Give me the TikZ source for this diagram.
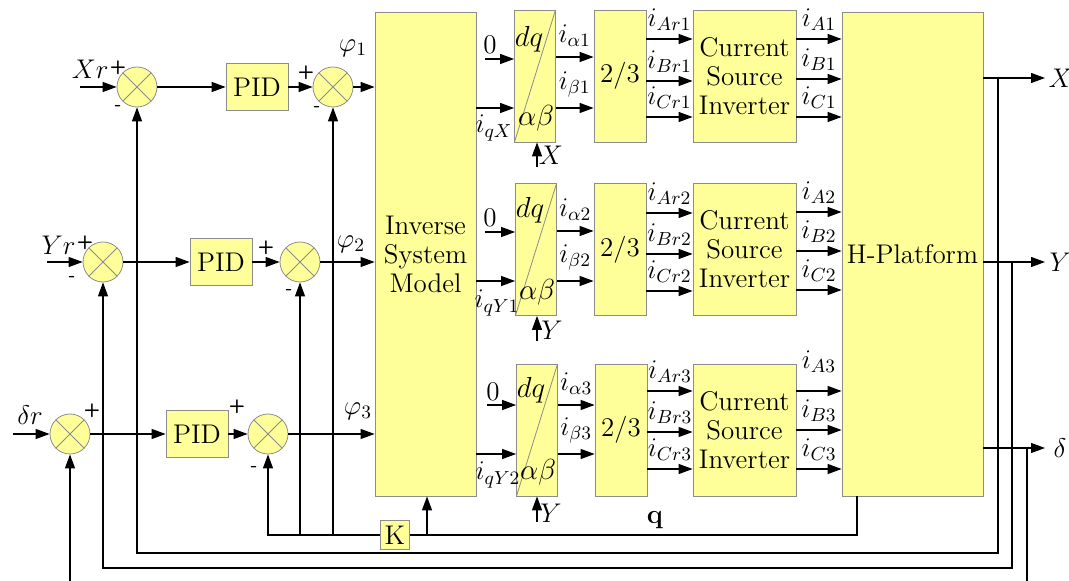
\RequirePackage{fix-cm}
\documentclass[tikz,border=0pt]{standalone}
\usepackage{tikz}
\usetikzlibrary{arrows.meta, positioning, calc}
\usepackage{amsmath}
\definecolor{boxfill}{HTML}{FFFF99}
\definecolor{boxline}{HTML}{8C8C8C}

\begin{document}
\begin{tikzpicture}[
    x=0.5pt, y=-0.5pt,
    font=\fontsize{13.5}{14.5}\selectfont,
    blk/.style={draw=boxline, fill=boxfill, inner sep=0pt, align=center},
    pidbox/.style={blk, minimum width=31pt, minimum height=23.5pt},
    tall/.style={blk, minimum width=#1, minimum height=242pt},
    dqbox/.style={blk, minimum width=20.5pt, minimum height=66pt,
        path picture={\draw[boxline] (path picture bounding box.south west) -- (path picture bounding box.north east);}},
    tfbox/.style={blk, minimum width=26pt, minimum height=66pt},
    csibox/.style={blk, minimum width=51.5pt, minimum height=66pt},
    kblk/.style={blk, minimum size=14.5pt},
    sumjn/.style={circle, draw=boxline, fill=boxfill, minimum size=20pt, inner sep=0pt,
        path picture={\draw[boxline] (path picture bounding box.north west) -- (path picture bounding box.south east)
            (path picture bounding box.north east) -- (path picture bounding box.south west);}},
    sgn/.style={font=\sffamily\bfseries\fontsize{9.5}{10}\selectfont, inner sep=0pt},
    lbl/.style={inner sep=0pt},
    big/.style={lbl, font=\fontsize{14.5}{15}\selectfont},
    arr/.style={-{Triangle[length=7pt, width=5pt]}, line width=0.6pt},
    ln/.style={line width=0.6pt},
]

\useasboundingbox (0,0) rectangle (1069,581);

% --- Outer loops: summing junctions and PIDs ---
\node[sumjn] (s1) at (137,87) {};
\node[pidbox] (pid1) at (257,87) {PID};
\node[sumjn] (s2) at (333,87) {};
\node[sumjn] (s3) at (103,262) {};
\node[pidbox] (pid2) at (221,262) {PID};
\node[sumjn] (s4) at (300,262) {};
\node[sumjn] (s5) at (70,434) {};
\node[pidbox] (pid3) at (197,434) {PID};
\node[sumjn] (s6) at (268,434) {};

\coordinate (xr) at (80,87);
\coordinate (yr) at (47,262);
\coordinate (dr) at (13,434);
\node[lbl, anchor=east] (xrl) at (109,69) {$Xr$};
\node[lbl, anchor=east] (yrl) at (76,245) {$Yr$};
\node[lbl] (drl) at (30,415) {$\delta r$};

\node[sgn] (p1) at (118,68) {+};
\node[sgn] (m1) at (118,108) {-};
\node[sgn] (p2) at (306,73) {+};
\node[sgn] (m2) at (317,109) {-};
\node[sgn] (p3) at (85,243) {+};
\node[sgn] (m3) at (72,279) {-};
\node[sgn] (p4) at (266,248) {+};
\node[sgn] (m4) at (289,292) {-};
\node[sgn] (p5) at (92,411) {+};
\node[sgn] (p6) at (237,407) {+};
\node[sgn] (m6) at (254,469) {-};

\draw[arr] (xr) -- (s1);
\draw[arr] (s1) -- (pid1);
\draw[arr] (pid1) -- (s2);
\draw[arr] (yr) -- (s3);
\draw[arr] (s3) -- (pid2);
\draw[arr] (pid2) -- (s4);
\draw[arr] (dr) -- (s5);
\draw[arr] (s5) -- (pid3);
\draw[arr] (pid3) -- (s6);

% --- Inverse model and plant ---
\node[tall=50.5pt] (ism) at (425.5,254) {Inverse\\System\\Model};
\node[tall=70.5pt] (hp) at (912.5,254) {H-Platform};

\draw[arr] (s2) -- (s2 -| ism.west);
\draw[arr] (s4) -- (s4 -| ism.west);
\draw[arr] (s6) -- (s6 -| ism.west);
\node[lbl] (phi1) at (353,48) {$\varphi_1$};
\node[lbl] (phi2) at (351,244) {$\varphi_2$};
\node[lbl] (phi3) at (358,411) {$\varphi_3$};

% --- Channel 1 ---
\node[dqbox] (dq1) at (535,76) {};
\node[tfbox] (tf1) at (620,76) {2/3};
\node[csibox] (csi1) at (744.5,76) {Current\\Source\\Inverter};
\node[big] (dqa1) at (529,39) {$dq$};
\node[big] (ab1) at (536,118) {$\alpha\beta$};
\coordinate (z1) at (485,59);
\coordinate (xi1) at (537,167);
\node[lbl] (zl1) at (490,45) {$0$};
\node[lbl] (iq1) at (494,128) {$i_{qX}$};
\node[lbl] (xl1) at (551,155) {$X$};
\draw[arr] (z1) -- (dq1.west |- z1);
\draw[arr] (ism.east |- 0,108) -- (dq1.west |- 0,108);
\draw[arr] (xi1) -- (xi1 |- dq1.south);
\draw[arr] (dq1.east |- 0,57) -- (tf1.west |- 0,57) node[lbl, midway, above=5pt] (ia1) {$i_{\alpha1}$};
\draw[arr] (dq1.east |- 0,108) -- (tf1.west |- 0,108) node[lbl, midway, above=5pt] (ib1) {$i_{\beta1}$};
\draw[arr] (tf1.east |- 0,39) -- (csi1.west |- 0,39) node[lbl, midway, above=4pt] (iar1) {$i_{Ar1}$};
\draw[arr] (tf1.east |- 0,81) -- (csi1.west |- 0,81) node[lbl, midway, above=4pt] (ibr1) {$i_{Br1}$};
\draw[arr] (tf1.east |- 0,117) -- (csi1.west |- 0,117) node[lbl, midway, above=4pt] (icr1) {$i_{Cr1}$};
\draw[arr] (csi1.east |- 0,39) -- (hp.west |- 0,39) node[lbl, midway, above=4pt] (iao1) {$i_{A1}$};
\draw[arr] (csi1.east |- 0,79) -- (hp.west |- 0,79) node[lbl, midway, above=4pt] (ibo1) {$i_{B1}$};
\draw[arr] (csi1.east |- 0,117) -- (hp.west |- 0,117) node[lbl, midway, above=4pt] (ico1) {$i_{C1}$};

% --- Channel 2 ---
\node[dqbox] (dq2) at (536,249.5) {};
\node[tfbox] (tf2) at (620,249.5) {2/3};
\node[csibox] (csi2) at (744.5,249.5) {Current\\Source\\Inverter};
\node[big] (dqa2) at (530,210) {$dq$};
\node[big] (ab2) at (537,292) {$\alpha\beta$};
\coordinate (z2) at (485,232);
\coordinate (xi2) at (537,341);
\node[lbl] (zl2) at (490,218) {$0$};
\node[lbl] (iq2) at (497,303) {$i_{qY1}$};
\node[lbl] (yl2) at (552,330) {$Y$};
\draw[arr] (z2) -- (dq2.west |- z2);
\draw[arr] (ism.east |- 0,281) -- (dq2.west |- 0,281);
\draw[arr] (xi2) -- (xi2 |- dq2.south);
\draw[arr] (dq2.east |- 0,231) -- (tf2.west |- 0,231) node[lbl, midway, above=5pt] (ia2) {$i_{\alpha2}$};
\draw[arr] (dq2.east |- 0,281) -- (tf2.west |- 0,281) node[lbl, midway, above=5pt] (ib2) {$i_{\beta2}$};
\draw[arr] (tf2.east |- 0,213) -- (csi2.west |- 0,213) node[lbl, midway, above=4pt] (iar2) {$i_{Ar2}$};
\draw[arr] (tf2.east |- 0,254) -- (csi2.west |- 0,254) node[lbl, midway, above=4pt] (ibr2) {$i_{Br2}$};
\draw[arr] (tf2.east |- 0,291) -- (csi2.west |- 0,291) node[lbl, midway, above=4pt] (icr2) {$i_{Cr2}$};
\draw[arr] (csi2.east |- 0,212) -- (hp.west |- 0,212) node[lbl, midway, above=4pt] (iao2) {$i_{A2}$};
\draw[arr] (csi2.east |- 0,251) -- (hp.west |- 0,251) node[lbl, midway, above=4pt] (ibo2) {$i_{B2}$};
\draw[arr] (csi2.east |- 0,290) -- (hp.west |- 0,290) node[lbl, midway, above=4pt] (ico2) {$i_{C2}$};

% --- Channel 3 ---
\node[dqbox] (dq3) at (537,430) {};
\node[tfbox] (tf3) at (621,430) {2/3};
\node[csibox] (csi3) at (744.5,430) {Current\\Source\\Inverter};
\node[big] (dqa3) at (531,390) {$dq$};
\node[big] (ab3) at (538,472) {$\alpha\beta$};
\coordinate (z3) at (487,405);
\coordinate (xi3) at (537,522);
\node[lbl] (zl3) at (493,392) {$0$};
\node[lbl] (iq3) at (498,475) {$i_{qY2}$};
\node[lbl] (yl3) at (551,513) {$Y$};
\draw[arr] (z3) -- (dq3.west |- z3);
\draw[arr] (ism.east |- 0,454) -- (dq3.west |- 0,454);
\draw[arr] (xi3) -- (xi3 |- dq3.south);
\draw[arr] (dq3.east |- 0,405) -- (tf3.west |- 0,405) node[lbl, midway, above=5pt] (ia3) {$i_{\alpha3}$};
\draw[arr] (dq3.east |- 0,454) -- (tf3.west |- 0,454) node[lbl, midway, above=5pt] (ib3) {$i_{\beta3}$};
\draw[arr] (tf3.east |- 0,391) -- (csi3.west |- 0,391) node[lbl, midway, above=4pt] (iar3) {$i_{Ar3}$};
\draw[arr] (tf3.east |- 0,432) -- (csi3.west |- 0,432) node[lbl, midway, above=4pt] (ibr3) {$i_{Br3}$};
\draw[arr] (tf3.east |- 0,469) -- (csi3.west |- 0,469) node[lbl, midway, above=4pt] (icr3) {$i_{Cr3}$};
\draw[arr] (csi3.east |- 0,391) -- (hp.west |- 0,391) node[lbl, midway, above=9pt] (iao3) {$i_{A3}$};
\draw[arr] (csi3.east |- 0,430) -- (hp.west |- 0,430) node[lbl, midway, above=4pt] (ibo3) {$i_{B3}$};
\draw[arr] (csi3.east |- 0,469) -- (hp.west |- 0,469) node[lbl, midway, above=4pt] (ico3) {$i_{C3}$};

% --- Outputs and feedback ---
\coordinate (xo) at (1045,78);
\coordinate (yo) at (1045,262);
\coordinate (do) at (1045,448);
\draw[arr] (hp.east |- xo) -- (xo) node[lbl, right=1.5pt] (xol) {$X$};
\draw[arr] (hp.east |- yo) -- (yo) node[lbl, right=2pt] (yol) {$Y$};
\draw[arr] (hp.east |- do) -- (do) node[lbl, right=4pt] (dol) {$\delta$};

\coordinate (xb) at (998,78);
\coordinate (yb) at (1012,262);
\coordinate (db) at (1027,448);
\draw[arr] (xb) -- (xb |- 0,553) -| (s1.south);
\draw[arr] (yb) -- (yb |- 0,568) -| (s3.south);
\draw[ln] (db) -- (db |- 0,581);
\draw[arr] (s5 |- 0,581) -- (s5.south);

% --- q feedback through K ---
\node[kblk] (kbox) at (395,535) {K};
\coordinate (qb) at (427,535);
\draw[ln] (857,0 |- hp.south) |- (kbox.east);
\draw[arr] (qb) -- (qb |- ism.south);
\draw[arr] (kbox.west) -| (s6.south);
\draw[arr] (s4 |- kbox.west) -- (s4.south);
\draw[arr] (s2 |- kbox.west) -- (s2.south);
\node[lbl] (ql) at (655,520) {$\mathbf{q}$};

\end{tikzpicture}
\end{document}
